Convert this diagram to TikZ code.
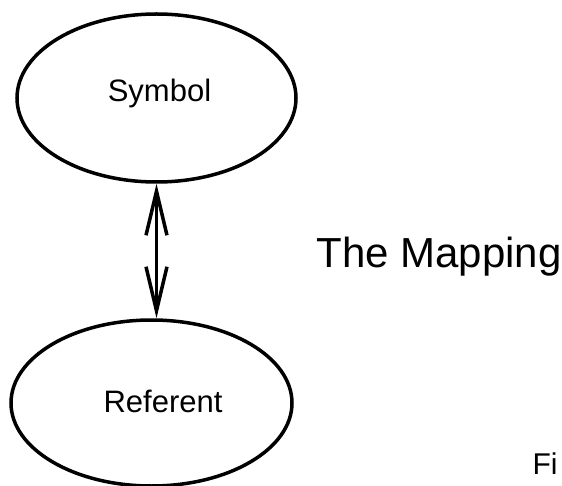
\documentclass[tikz,border=0pt]{standalone}
\usepackage{fontspec}
\setmainfont{Liberation Sans}
\usetikzlibrary{shapes.geometric,arrows.meta}
\tikzset{
	blob/.style={ellipse, draw, line width=3.5pt, minimum width=279pt, minimum height=168pt, inner sep=0pt},
	tag/.style={anchor=base, font=\fontsize{31}{37}\selectfont},
	barb/.style={line width=3.5pt, arrows={Straight Barb[length=44pt,width=21pt]-Straight Barb[length=44pt,width=21pt]}}
}
\begin{document}
\begin{tikzpicture}[x=1pt, y=-1pt]
	\useasboundingbox (0,0) rectangle (562,486);
	\node [blob] (sym) at (156.5,98) {};
	\node [blob, minimum width=281pt, minimum height=166pt] (ref) at (151.5,403) {};
	\node [tag] (symtxt) at (159.5,102) {Symbol};
	\node [tag] (reftxt) at (163,412) {Referent};
	\draw [barb] (sym.south) -- (sym.south |- ref.north);
	\node [anchor=base west, font=\fontsize{42}{50}\selectfont] (map) at (313,268) {The Mapping};
	\node [anchor=base west, font=\fontsize{30}{36}\selectfont] (fig) at (529,474) {Fi};
\end{tikzpicture}
\end{document}
